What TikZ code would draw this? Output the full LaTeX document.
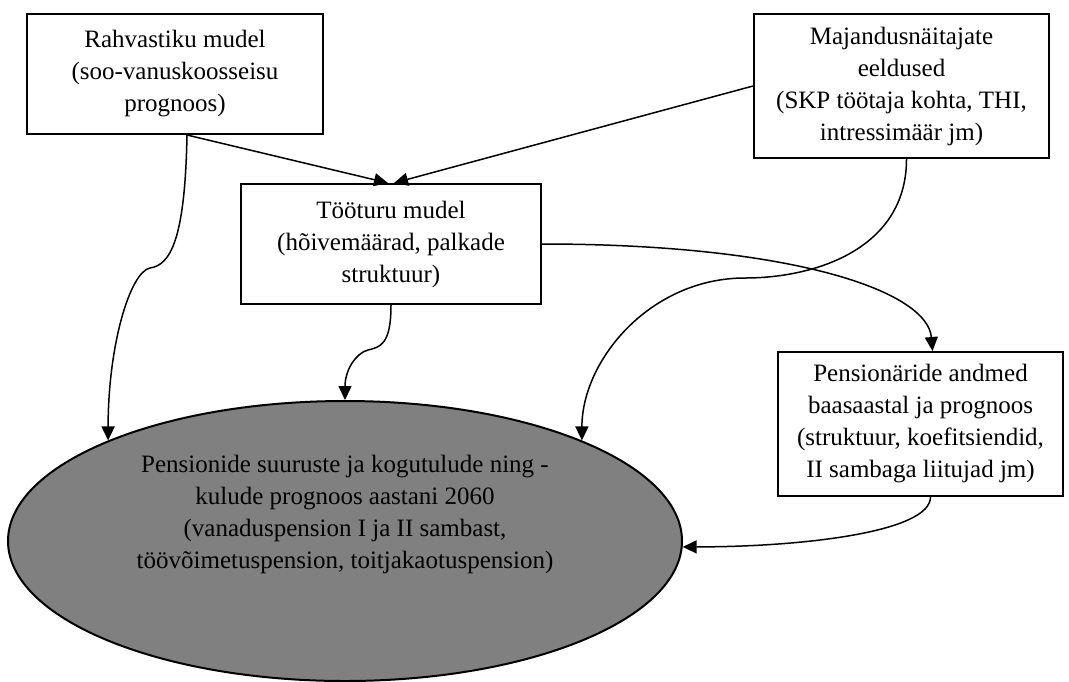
\documentclass[tikz,border=0pt]{standalone}
\usepackage{fontspec}
\setmainfont{Liberation Serif}
\usepackage{tikz}
\usetikzlibrary{positioning,arrows.meta,shapes.geometric}

\begin{document}
\begin{tikzpicture}[
        x=0.5pt, y=-0.5pt,
        font=\fontsize{12.5pt}{16pt}\selectfont,
        box/.style={draw, line width=1pt, fill=white, align=center, inner sep=2pt},
        oval/.style={draw, ellipse, line width=1pt, fill=gray, inner sep=0pt, minimum width=337pt, minimum height=140pt},
        arrow/.style={-{Triangle[length=7pt,width=6.5pt]}, line width=0.75pt}
    ]
        \useasboundingbox (0,0) rectangle (1069,681);

        \node[box, minimum width=148pt, minimum height=60pt] (rahv) at (175,74) {
            Rahvastiku mudel\\
            (soo-vanuskoosseisu\\
            prognoos)
        };

        \node[box, minimum width=147.5pt, minimum height=72pt, right=214.5pt of rahv.north east, anchor=north west] (maj) {
            Majandusnäitajate\\
            eeldused\\
            (SKP töötaja kohta, THI,\\
            intressimäär jm)
        };

        \node[box, minimum width=150pt, minimum height=60pt, below right=24pt and 107pt of rahv.south west] (toot) {
            Tööturu mudel\\
            (hõivemäärad, palkade\\
            struktuur)
        };

        \node[box, minimum width=142.5pt, minimum height=72pt, below right=96pt and 12pt of maj.south west] (pensand) {
            Pensionäride andmed\\
            baasaastal ja prognoos\\
            (struktuur, koefitsiendid,\\
            II sambaga liitujad jm)
        };

        \node[oval, below=47.5pt of toot, xshift=-23pt] (prog) {};
        \node[align=center] (progtekst) at ([yshift=13.5pt]prog.center) {
            Pensionide suuruste ja kogutulude ning -\\
            kulude prognoos aastani 2060\\
            (vanaduspension I ja II sambast,\\
            töövõimetuspension, toitjakaotuspension)
        };

        \draw[arrow] ([xshift=6pt]rahv.south) -- ([xshift=-1.5pt]toot.north);
        \draw[arrow] (maj.west) -- ([xshift=1.5pt]toot.north);
        \draw[arrow] ([xshift=6pt]rahv.south) .. controls +(-2,106) and +(20,-3) .. (150,268)
            .. controls +(-20,4) and +(0,-95) .. (prog.157);
        \draw[arrow] (toot.south) .. controls +(0,40) and +(12,-3) .. (368,350)
            .. controls +(-12,3) and +(0,-30) .. (prog.north);
        \draw[arrow] ([xshift=2.5pt]maj.south) .. controls +(0,90) and +(70,0) .. (745,278)
            .. controls +(-95,0) and +(0,-80) .. (prog.23);
        \draw[arrow] (toot.east) .. controls +(250,0) and +(-5,-60) .. ([xshift=6pt]pensand.north);
        \draw[arrow] ([xshift=5pt]pensand.south) .. controls +(0,35) and +(120,0) .. (prog.-1);
    \end{tikzpicture}
\end{document}
